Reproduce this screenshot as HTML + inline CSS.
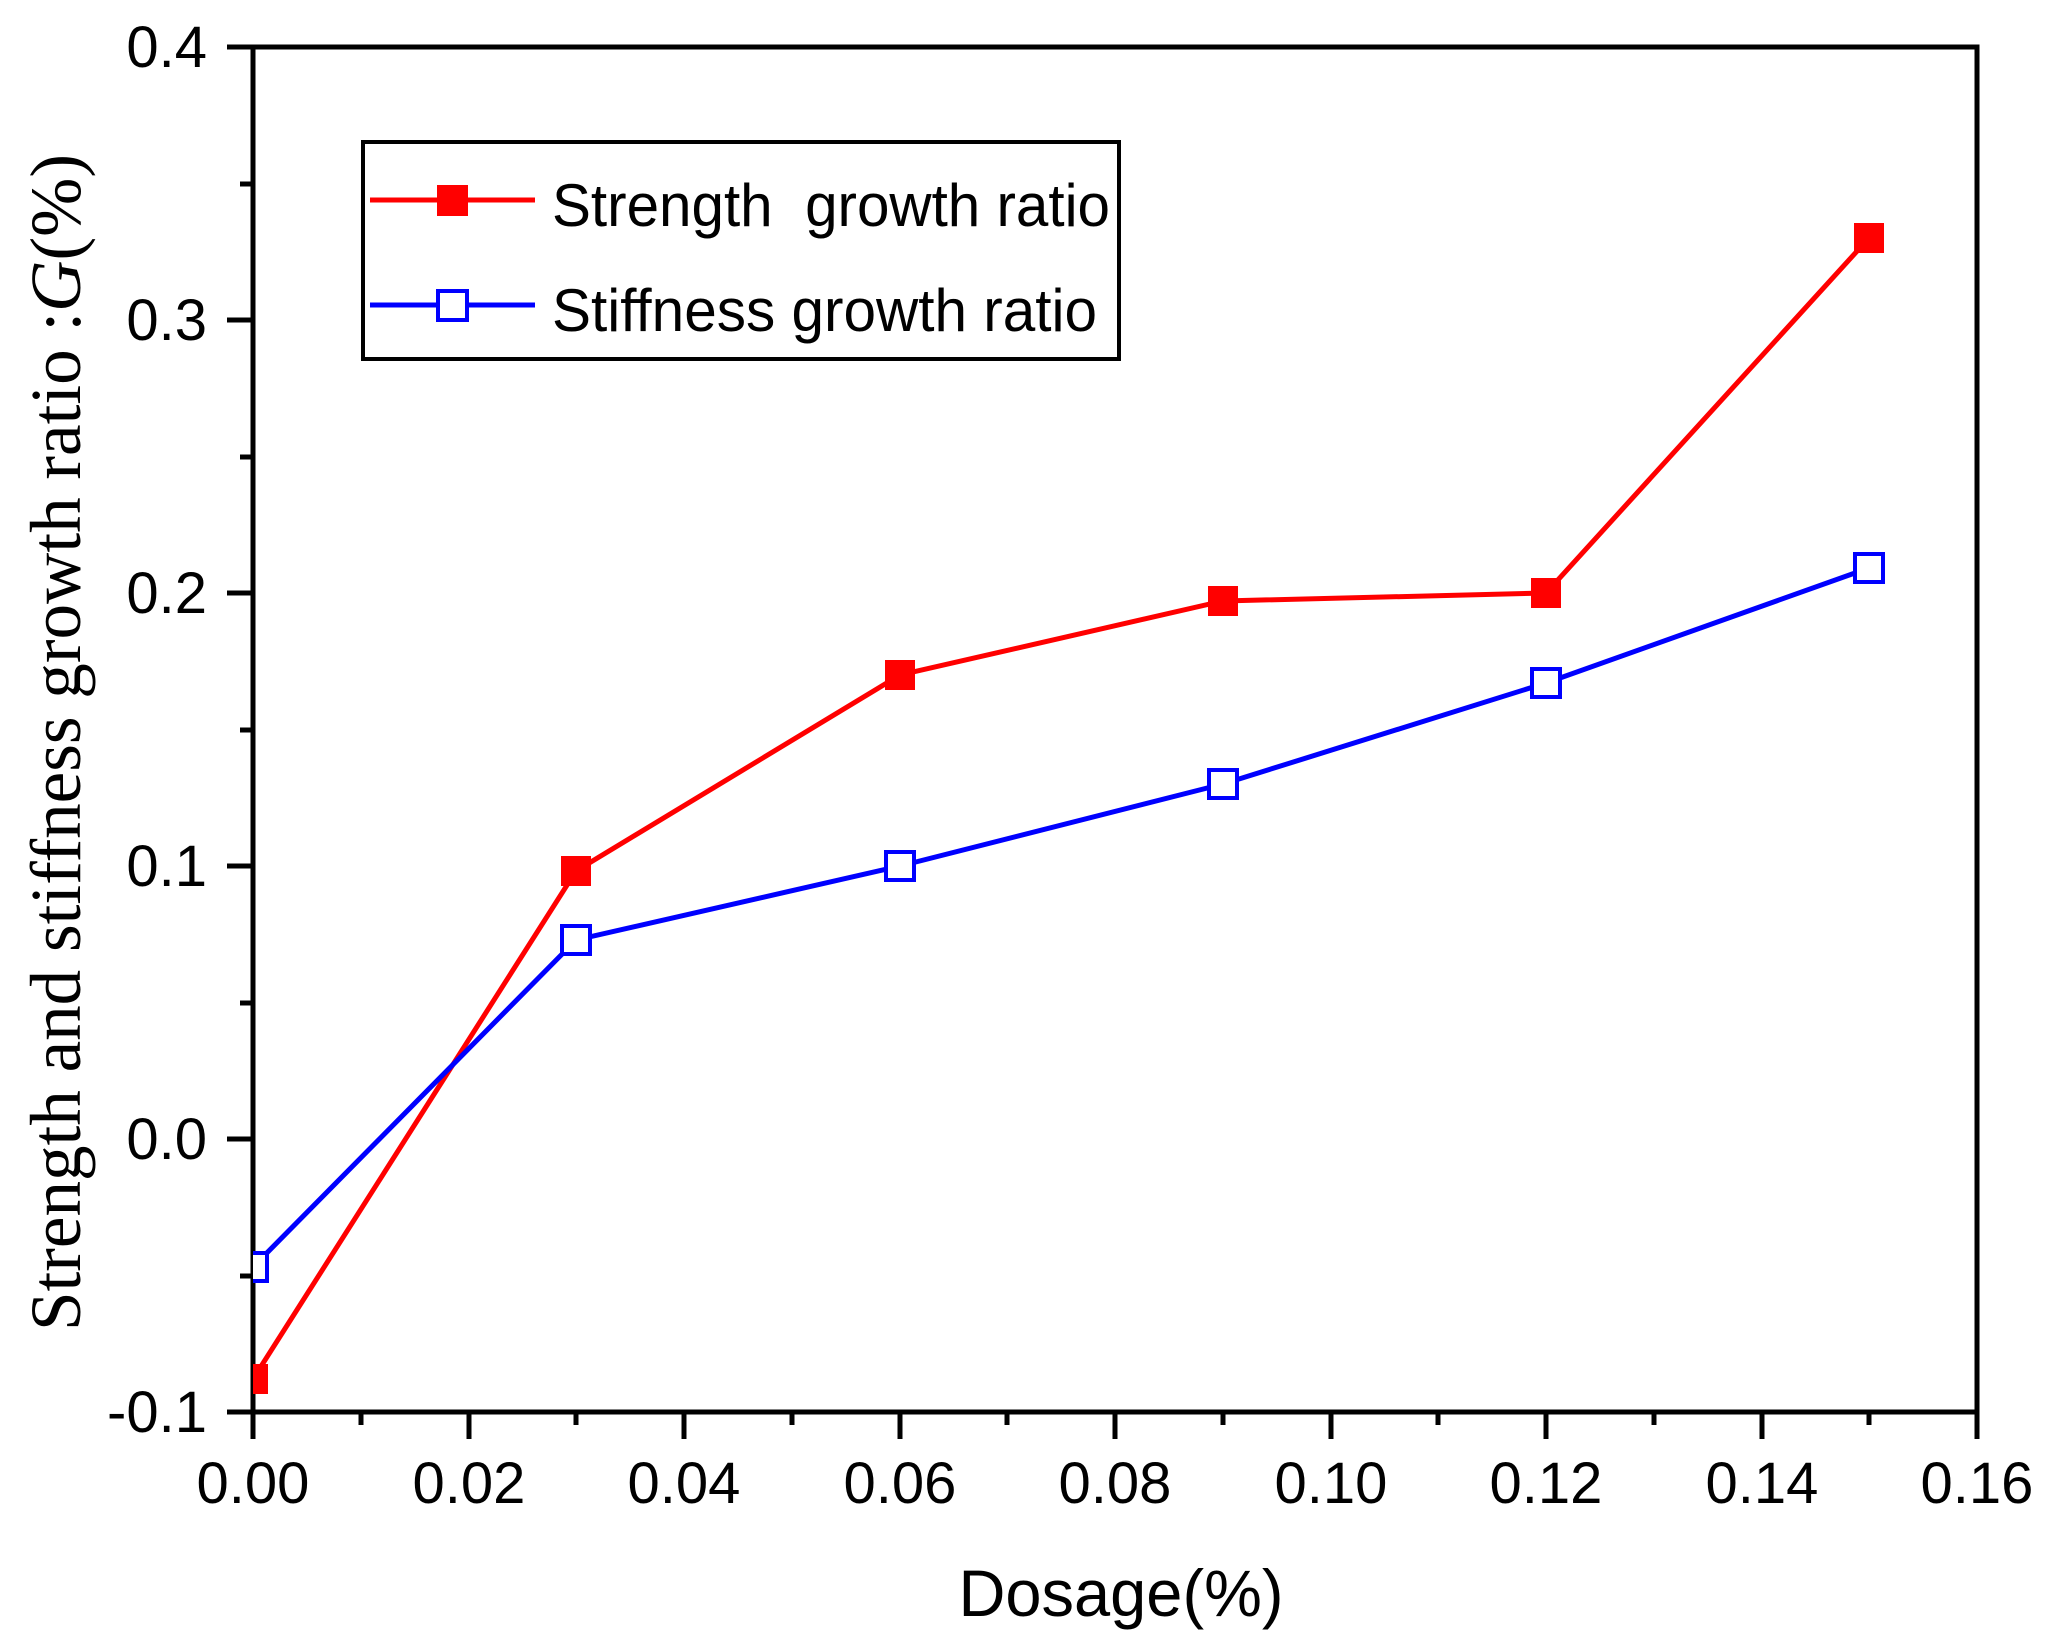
<!DOCTYPE html>
<html><head><meta charset="utf-8"><style>html,body{margin:0;padding:0;background:#fff}svg{display:block}</style></head>
<body>
<svg width="2056" height="1646" viewBox="0 0 2056 1646" xmlns="http://www.w3.org/2000/svg">
<defs><clipPath id="c"><rect x="253" y="47" width="1724" height="1365"/></clipPath></defs>
<g stroke="#000" stroke-width="5" fill="none">
<rect x="253" y="47" width="1724" height="1365"/>
<path d="M253 1412v27M469 1412v27M684 1412v27M900 1412v27M1115 1412v27M1331 1412v27M1546 1412v27M1762 1412v27M1977 1412v27"/>
<path d="M361 1412v13M576 1412v13M792 1412v13M1007 1412v13M1223 1412v13M1438 1412v13M1654 1412v13M1869 1412v13"/>
<path d="M227 47h26M227 320h26M227 593h26M227 866h26M227 1139h26M227 1412h26"/>
<path d="M240 184h13M240 457h13M240 730h13M240 1003h13M240 1276h13"/>
</g>
<g font-family="Liberation Sans, sans-serif" font-size="58" fill="#000">
<g text-anchor="middle">
<text x="253" y="1503">0.00</text><text x="469" y="1503">0.02</text><text x="684" y="1503">0.04</text><text x="900" y="1503">0.06</text><text x="1115" y="1503">0.08</text><text x="1331" y="1503">0.10</text><text x="1546" y="1503">0.12</text><text x="1762" y="1503">0.14</text><text x="1977" y="1503">0.16</text>
</g>
<g text-anchor="end">
<text x="207" y="67">0.4</text><text x="207" y="340">0.3</text><text x="207" y="613">0.2</text><text x="207" y="886">0.1</text><text x="207" y="1159">0.0</text><text x="207" y="1432">-0.1</text>
</g>
<text x="1121" y="1616" text-anchor="middle" font-size="66" textLength="325" lengthAdjust="spacingAndGlyphs">Dosage(%)</text>
</g>
<text transform="translate(80,1331) rotate(-90)" font-family="Liberation Serif, serif" font-size="72" textLength="1177" lengthAdjust="spacingAndGlyphs">Strength and stiffness growth ratio :<tspan font-style="italic">G</tspan>(%)</text>
<g clip-path="url(#c)">
<polyline points="253,1379 576,871 900,675 1223,601 1546,593 1869,238" fill="none" stroke="#f00" stroke-width="5"/>
<polyline points="253,1267 576,940 900,866 1223,784 1546,683 1869,568" fill="none" stroke="#00f" stroke-width="5"/>
<g fill="#f00">
<rect x="238" y="1364" width="30" height="30"/><rect x="561" y="856" width="30" height="30"/><rect x="885" y="660" width="30" height="30"/><rect x="1208" y="586" width="30" height="30"/><rect x="1531" y="578" width="30" height="30"/><rect x="1854" y="223" width="30" height="30"/>
</g>
<g fill="#fff" stroke="#00f" stroke-width="4">
<rect x="239" y="1253" width="28" height="28"/><rect x="562" y="926" width="28" height="28"/><rect x="886" y="852" width="28" height="28"/><rect x="1209" y="770" width="28" height="28"/><rect x="1532" y="669" width="28" height="28"/><rect x="1855" y="554" width="28" height="28"/>
</g>
</g>
<rect x="363" y="142" width="756" height="217" fill="#fff" stroke="#000" stroke-width="4"/>
<path d="M370 200h165" stroke="#f00" stroke-width="5"/>
<rect x="437" y="185" width="31" height="31" fill="#f00"/>
<path d="M370 305h165" stroke="#00f" stroke-width="5"/>
<rect x="438" y="291" width="29" height="29" fill="#fff" stroke="#00f" stroke-width="4"/>
<g font-family="Liberation Sans, sans-serif" font-size="60" fill="#000">
<text x="552" y="226" textLength="558" lengthAdjust="spacingAndGlyphs" xml:space="preserve">Strength  growth ratio</text>
<text x="552" y="331" textLength="545" lengthAdjust="spacingAndGlyphs">Stiffness growth ratio</text>
</g>
</svg>
</body></html>
